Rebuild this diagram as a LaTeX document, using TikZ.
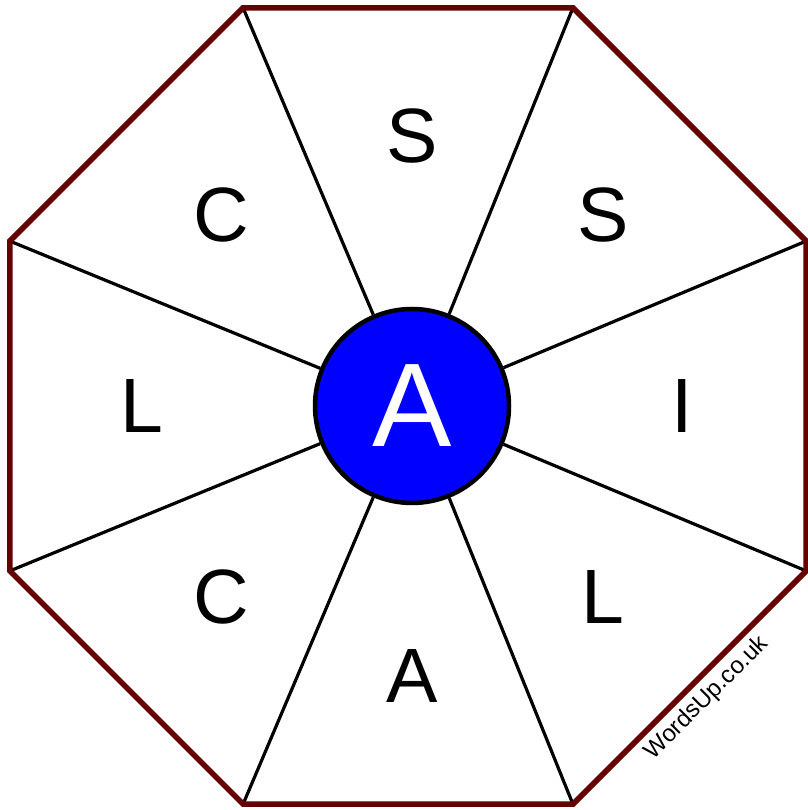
\documentclass[tikz,border=0pt]{standalone}
\usepackage{fontspec}
\setmainfont{Liberation Sans}
\usetikzlibrary{calc}

\definecolor{rim}{RGB}{102,0,0}
\definecolor{hubblue}{RGB}{0,0,255}

\tikzset{
  rim/.style={line width=5.5pt, draw=rim, line join=miter},
  spoke/.style={line width=3.2pt, draw=black},
  letter/.style={font=\fontsize{77}{77}\selectfont, inner sep=0pt},
  hub/.style={circle, line width=4.5pt, draw=black, fill=hubblue, minimum size=194pt, inner sep=0pt,
              text=white, font=\fontsize{119}{119}\selectfont}
}

\begin{document}
\begin{tikzpicture}[x=1pt,y=1pt]

        % Marco de la imagen
        \useasboundingbox (0,0) rectangle (807,810);

        % Centro y vertices del octogono
        \coordinate (O) at (408,404);
        \coordinate (M) at (412,404); % centro del circulo y de las letras
        \coordinate (V1) at ($(O)+(22.5:431)$);
        \coordinate (V2) at ($(O)+(67.5:431)$);
        \coordinate (V3) at ($(O)+(112.5:431)$);
        \coordinate (V4) at ($(O)+(157.5:431)$);
        \coordinate (V5) at ($(O)+(202.5:431)$);
        \coordinate (V6) at ($(O)+(247.5:431)$);
        \coordinate (V7) at ($(O)+(292.5:431)$);
        \coordinate (V8) at ($(O)+(337.5:431)$);

        % Circulo central
        \node[hub] (hub) at (M) {A};

        % Radios desde el circulo a los vertices
        \foreach \v in {V1,V2,V3,V4,V5,V6,V7,V8}
            \draw[spoke] (hub) -- (\v);

        % Borde del octogono
        \draw[rim] (V1) -- (V2) -- (V3) -- (V4) -- (V5) -- (V6) -- (V7) -- (V8) -- cycle;

        % Letras alrededor
        \node[letter] (s1) at ($(M)+(90:270)$) {S};
        \node[letter] (s2) at ($(M)+(45:270)$) {S};
        \node[letter] (i1) at ($(M)+(0:270)$) {I};
        \node[letter] (l1) at ($(M)+(-45:270)$) {L};
        \node[letter] (a1) at ($(M)+(-90:270)$) {A};
        \node[letter] (c1) at ($(M)+(-135:270)$) {C};
        \node[letter] (l2) at ($(M)+(180:270)$) {L};
        \node[letter] (c2) at ($(M)+(135:270)$) {C};

        % Marca de agua
        \node[rotate=45, font=\fontsize{24}{24}\selectfont, inner sep=0pt] (mark) at (707,112) {WordsUp.co.uk};

    \end{tikzpicture}
\end{document}
